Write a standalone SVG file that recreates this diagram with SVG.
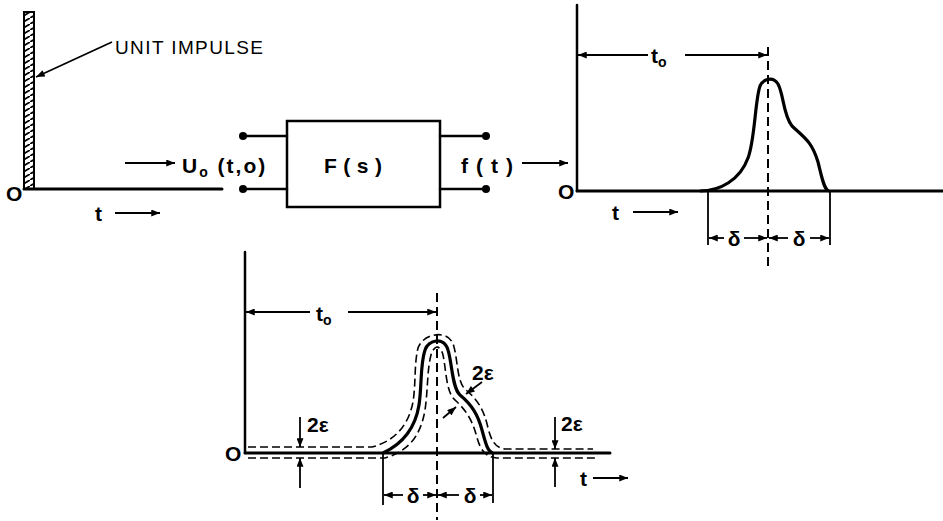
<svg xmlns="http://www.w3.org/2000/svg" width="943" height="521" viewBox="0 0 943 521">
<style>
.ln{stroke:#000;stroke-width:2.5;fill:none;stroke-linecap:round}
.thin{stroke:#000;stroke-width:1.8;fill:none}
.dash{stroke:#000;stroke-width:2;fill:none;stroke-dasharray:9 5}
.env{stroke:#000;stroke-width:1.6;fill:none;stroke-dasharray:8 4}
.crv{stroke:#000;stroke-width:3.2;fill:none;stroke-linejoin:round}
.tx{font-family:"Liberation Sans",Arial,sans-serif;font-weight:bold;font-size:21px;fill:#000}
.lb{font-family:"Liberation Sans",Arial,sans-serif;font-size:19px;fill:#000}
.sub{font-size:14px}
.arr{marker-end:url(#ah)}
.arrs{marker-start:url(#ah)}
</style>
<defs>
<marker id="ah" viewBox="0 0 10 8" refX="10" refY="4" markerWidth="10" markerHeight="7" markerUnits="userSpaceOnUse" orient="auto-start-reverse">
<path d="M0,0 L10,4 L0,8 z" fill="#000"/>
</marker>
<pattern id="hatch" patternUnits="userSpaceOnUse" width="10" height="6">
<path d="M0,6 L10,0" stroke="#000" stroke-width="1.8"/>
</pattern>
</defs>
<rect width="943" height="521" fill="#fff"/>

<g id="impulse-graph">
<rect x="24" y="12" width="10" height="177" fill="url(#hatch)" stroke="#000" stroke-width="2"/>
<line class="ln" x1="24" y1="189" x2="222" y2="189" style="stroke-width:3"/>
<text class="tx" x="6" y="201">O</text>
<text class="lb" x="115" y="54" textLength="148" lengthAdjust="spacing">UNIT IMPULSE</text>
<text class="tx" x="95" y="221">t</text>
</g>

<g id="system">
<rect x="287" y="121" width="153" height="86" fill="none" stroke="#000" stroke-width="2.5"/>
<text class="tx" x="324" y="173" textLength="58" lengthAdjust="spacing">F(s)</text>
<circle cx="243" cy="136" r="4"/>
<circle cx="243" cy="189" r="4"/>
<circle cx="486" cy="136" r="4"/>
<circle cx="486" cy="189" r="4"/>
<text class="tx" x="182" y="173" letter-spacing="2">U<tspan class="sub" dy="4">o</tspan><tspan dy="-4"> (t,o)</tspan></text>
<text class="tx" x="461" y="173" textLength="52" lengthAdjust="spacing">f(t)</text>
</g>

<g id="response-graph">
<line class="ln" x1="577" y1="5" x2="577" y2="191"/>
<line class="ln" x1="577" y1="191" x2="943" y2="191" style="stroke-width:3"/>
<text class="tx" x="558" y="199">O</text>
<text class="tx" x="651" y="63">t<tspan class="sub" dy="4">o</tspan></text>
<line class="dash" x1="768" y1="47" x2="768" y2="267"/>
<path class="crv" d="M700 191 C720 191,740 180,748 158 C755 140,755 100,760 86 C763 79,773 76,778 84 C784 95,783 115,792 126 C805 138,812 142,818 162 C822 178,824 190,829 191"/>
<line class="thin" x1="708" y1="191" x2="708" y2="245"/>
<line class="thin" x1="830" y1="191" x2="830" y2="245"/>
<text class="tx" x="734" y="246" text-anchor="middle">δ</text>
<text class="tx" x="799" y="246" text-anchor="middle">δ</text>
<text class="tx" x="612" y="220">t</text>
</g>

<g id="tolerance-graph">
<line class="ln" x1="245" y1="252" x2="245" y2="453"/>
<line class="ln" x1="245" y1="453" x2="610" y2="453" style="stroke-width:3"/>
<text class="tx" x="225" y="461">O</text>
<text class="tx" x="316" y="321">t<tspan class="sub" dy="4">o</tspan></text>
<line class="dash" x1="437" y1="293" x2="437" y2="520"/>
<path class="env" d="M248 447 L372 447 C392 442,408 428,413 402 C416 383,414 365,418 348 C423 333,450 328,454 347 C458 362,457 383,466 390 C478 400,484 410,488 428 C491 440,495 448,505 449 L593 449"/>
<path class="env" d="M248 458 L385 458 C405 452,420 440,425 410 C428 390,427 370,431 355 C434 345,440 344,443 355 C446 368,446 393,455 400 C466 410,472 420,476 434 C480 450,485 457,497 458 L595 458"/>
<path class="crv" d="M383 453 C400 445,415 430,419 405 C422 385,420 365,425 350 C428 340,444 336,448 350 C452 362,452 388,460 395 C472 405,478 415,482 430 C486 445,488 452,493 453"/>
<line class="thin" x1="383" y1="453" x2="383" y2="505"/>
<line class="thin" x1="493" y1="453" x2="493" y2="503"/>
<text class="tx" x="413" y="503" text-anchor="middle">δ</text>
<text class="tx" x="470" y="503" text-anchor="middle">δ</text>
<text class="tx" x="307" y="432">2ε</text>
<text class="tx" x="561" y="431">2ε</text>
<text class="tx" x="472" y="380">2ε</text>
<text class="tx" x="580" y="486">t</text>
</g>

<g id="connectors">
<line class="thin arr" x1="112" y1="42" x2="36" y2="77"/>
<line class="thin arr" x1="115" y1="213" x2="160" y2="213"/>
<line class="thin arr" x1="125" y1="163" x2="175" y2="163"/>
<line class="ln" x1="243" y1="136" x2="287" y2="136"/>
<line class="ln" x1="243" y1="189" x2="287" y2="189"/>
<line class="ln" x1="440" y1="136" x2="486" y2="136"/>
<line class="ln" x1="440" y1="189" x2="486" y2="189"/>
<line class="thin arr" x1="522" y1="163" x2="568" y2="163"/>
<line class="thin arrs" x1="578" y1="55" x2="648" y2="55"/>
<line class="thin arr" x1="685" y1="55" x2="767" y2="55"/>
<line class="thin arr" x1="633" y1="212" x2="678" y2="212"/>
<line class="thin arrs" x1="709" y1="238" x2="724" y2="238"/>
<line class="thin arr" x1="744" y1="238" x2="767" y2="238"/>
<line class="thin arrs" x1="769" y1="238" x2="788" y2="238"/>
<line class="thin arr" x1="810" y1="238" x2="829" y2="238"/>
<line class="thin arrs" x1="246" y1="312" x2="310" y2="312"/>
<line class="thin arr" x1="348" y1="312" x2="436" y2="312"/>
<line class="thin arrs" x1="384" y1="495" x2="403" y2="495"/>
<line class="thin arr" x1="423" y1="495" x2="436" y2="495"/>
<line class="thin arrs" x1="438" y1="495" x2="459" y2="495"/>
<line class="thin arr" x1="480" y1="495" x2="492" y2="495"/>
<line class="thin arr" x1="300" y1="417" x2="300" y2="447"/>
<line class="thin arr" x1="300" y1="488" x2="300" y2="458"/>
<line class="thin arr" x1="555" y1="417" x2="555" y2="449"/>
<line class="thin arr" x1="555" y1="487" x2="555" y2="458"/>
<line class="thin arr" x1="482" y1="382" x2="466" y2="394"/>
<line class="thin arr" x1="443" y1="418" x2="456" y2="407"/>
<line class="thin arr" x1="593" y1="478" x2="628" y2="478"/>
</g>
</svg>
